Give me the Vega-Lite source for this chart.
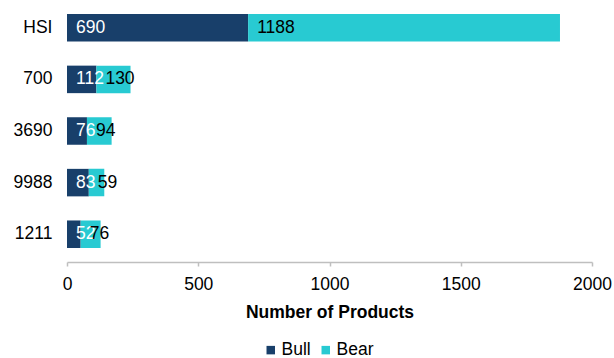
{
  "$schema": "https://vega.github.io/schema/vega-lite/v6.json",
  "width": 525,
  "height": 258,
  "autosize": {"type": "none"},
  "padding": {"left": 67, "top": 2, "right": 22, "bottom": 98},
  "background": "white",
  "config": {
    "view": {"stroke": null},
    "font": "Liberation Sans",
    "text": {"font": "Liberation Sans"}
  },
  "data": {
    "values": [
      {"ticker": "HSI", "type": "Bull", "value": 690},
      {"ticker": "HSI", "type": "Bear", "value": 1188},
      {"ticker": "700", "type": "Bull", "value": 112},
      {"ticker": "700", "type": "Bear", "value": 130},
      {"ticker": "3690", "type": "Bull", "value": 76},
      {"ticker": "3690", "type": "Bear", "value": 94},
      {"ticker": "9988", "type": "Bull", "value": 83},
      {"ticker": "9988", "type": "Bear", "value": 59},
      {"ticker": "1211", "type": "Bull", "value": 52},
      {"ticker": "1211", "type": "Bear", "value": 76}
    ]
  },
  "transform": [
    {"stack": "value", "groupby": ["ticker"], "sort": [{"field": "type", "order": "descending"}], "as": ["x0", "x1"]}
  ],
  "encoding": {
    "y": {
      "field": "ticker",
      "type": "nominal",
      "sort": ["HSI", "700", "3690", "9988", "1211"],
      "scale": {"paddingInner": 0.467, "paddingOuter": 0.233},
      "axis": {
        "title": null,
        "domain": false,
        "ticks": false,
        "labelPadding": 15,
        "labelFontSize": 17.5,
        "labelColor": "#000000",
        "labelFont": "Liberation Sans"
      }
    }
  },
  "layer": [
    {
      "mark": {"type": "bar"},
      "encoding": {
        "x": {
          "field": "x0",
          "type": "quantitative",
          "scale": {"domain": [0, 2000], "nice": false},
          "axis": {
            "title": "Number of Products",
            "values": [0, 500, 1000, 1500, 2000],
            "format": "d",
            "labelFlush": false,
            "labelBound": false,
            "labelOverlap": false,
            "grid": false,
            "offset": 2,
            "domainColor": "#BFBFBF",
            "domainWidth": 1.5,
            "tickColor": "#BFBFBF",
            "tickSize": 4,
            "tickWidth": 1.5,
            "labelFontSize": 17.5,
            "labelColor": "#000000",
            "labelPadding": 9,
            "labelFont": "Liberation Sans",
            "titleFont": "Liberation Sans",
            "titleFontSize": 17.5,
            "titleFontWeight": "bold",
            "titleColor": "#000000",
            "titlePadding": 11
          }
        },
        "x2": {"field": "x1"},
        "color": {
          "field": "type",
          "type": "nominal",
          "scale": {"domain": ["Bull", "Bear"], "range": ["#183F6A", "#28CAD2"]},
          "legend": {
            "title": null,
            "orient": "none",
            "direction": "horizontal",
            "legendX": 195,
            "legendY": 339,
            "symbolType": "square",
            "symbolSize": 72,
            "symbolStrokeWidth": 0,
            "labelFontSize": 17.5,
            "labelFont": "Liberation Sans",
            "labelColor": "#000000",
            "labelOffset": 2,
            "columnPadding": 6,
            "padding": 0
          }
        }
      }
    },
    {
      "mark": {"type": "text", "align": "left", "baseline": "middle", "dx": 9, "fontSize": 17.5, "font": "Liberation Sans"},
      "encoding": {
        "x": {"field": "x0", "type": "quantitative"},
        "text": {"field": "value", "type": "quantitative"},
        "color": {
          "condition": {"test": "datum.type === 'Bull'", "value": "#FFFFFF"},
          "value": "#000000"
        }
      }
    }
  ]
}
